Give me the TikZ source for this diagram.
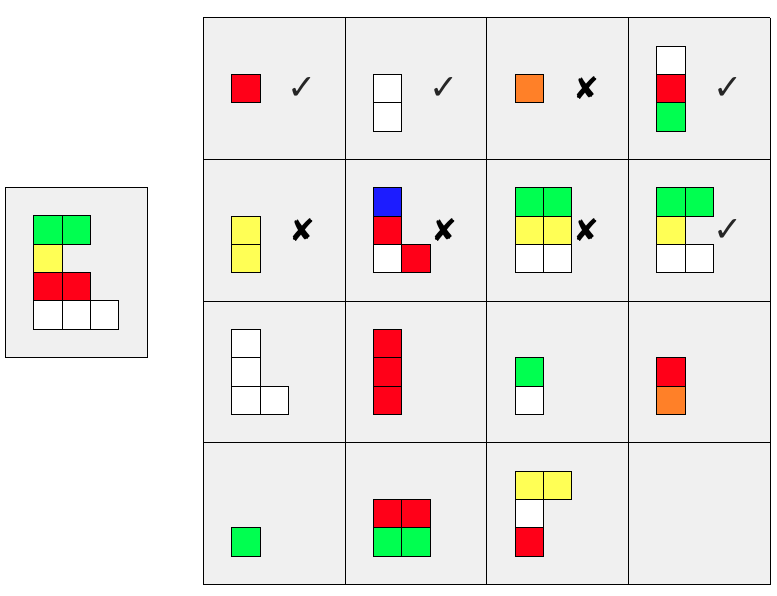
\documentclass[tikz,border=0pt]{standalone}
\usepackage{fontspec}
\newfontfamily\markfont{DejaVu Sans}
\definecolor{tred}{RGB}{255,0,24}
\definecolor{tgreen}{RGB}{0,255,80}
\definecolor{tyellow}{RGB}{255,255,85}
\definecolor{tblue}{RGB}{28,28,255}
\definecolor{torange}{RGB}{255,128,40}
\definecolor{panelgray}{RGB}{240,240,240}
\tikzset{
  panel/.style={fill=panelgray, draw=black, line width=0.8pt},
  sq/.style={draw=black, line width=0.8pt},
  yes/.style={font=\markfont\fontsize{35}{35}\selectfont, text=black!85, inner sep=0pt},
  no/.style={font=\markfont\fontsize{31}{31}\selectfont, text=black, inner sep=0pt}
}
\begin{document}
\begin{tikzpicture}[x=1cm,y=-1cm]
\useasboundingbox (0,0) rectangle (27.41,21.02);

% target shape on the left
\begin{scope}[shift={(0.19,6.61)}]
\draw[panel] (0,0) rectangle (5,6);
\foreach \x/\y/\c in {1/1/tgreen, 2/1/tgreen, 1/2/tyellow, 1/3/tred, 2/3/tred,
                      1/4/white, 2/4/white, 3/4/white}
  \draw[sq, fill=\c] (\x,\y) rectangle ++(1,1);
\end{scope}

% grid of candidate pieces
\begin{scope}[shift={(7.17,0.62)}]
\fill[panelgray] (0,0) rectangle (20,20);
\foreach \i in {0,...,4} {
  \draw[line width=0.8pt] (5*\i,0) -- (5*\i,20);
  \draw[line width=0.8pt] (0,5*\i) -- (20,5*\i);
}
% pieces
\foreach \x/\y/\c in {
    1/2/tred,
    6/2/white, 6/3/white,
    11/2/torange,
    16/1/white, 16/2/tred, 16/3/tgreen,
    1/7/tyellow, 1/8/tyellow,
    6/6/tblue, 6/7/tred, 6/8/white, 7/8/tred,
    11/6/tgreen, 12/6/tgreen, 11/7/tyellow, 12/7/tyellow, 11/8/white, 12/8/white,
    16/6/tgreen, 17/6/tgreen, 16/7/tyellow, 16/8/white, 17/8/white,
    1/11/white, 1/12/white, 1/13/white, 2/13/white,
    6/11/tred, 6/12/tred, 6/13/tred,
    11/12/tgreen, 11/13/white,
    16/12/tred, 16/13/torange,
    1/18/tgreen,
    6/17/tred, 7/17/tred, 6/18/tgreen, 7/18/tgreen,
    11/16/tyellow, 12/16/tyellow, 11/17/white, 11/18/tred}
  \draw[sq, fill=\c] (\x,\y) rectangle ++(1,1);
% marks
\foreach \x/\y in {3.5/2.5, 8.5/2.5, 18.5/2.5, 18.5/7.5}
  \node[yes] at (\x,\y) {✓};
\foreach \x/\y in {13.5/2.5, 3.5/7.5, 8.5/7.5, 13.5/7.5}
  \node[no] at (\x,\y) {✘};
\end{scope}
\end{tikzpicture}
\end{document}
